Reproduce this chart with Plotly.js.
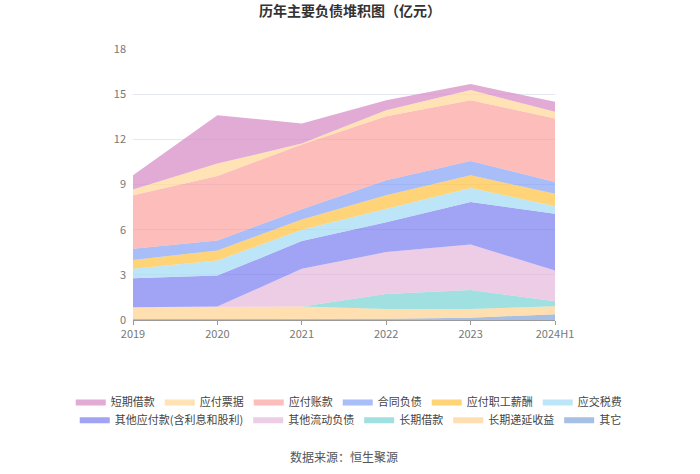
<!DOCTYPE html>
<html>
<head>
<meta charset="utf-8">
<script src="https://cdn.plot.ly/plotly-3.0.1.min.js"></script>
<style>
  html, body { margin: 0; padding: 0; background: #fff; }
  #chart { width: 700px; height: 474px; }
</style>
</head>
<body>
<div id="chart"></div>
<script>
// années
const years = ['2019', '2020', '2021', '2022', '2023', '2024H1'];

// valeurs (亿元)
const qita = [0.07, 0.08, 0.10, 0.08, 0.15, 0.38];          // 其它
const changqiDiyan = [0.77, 0.81, 0.79, 0.65, 0.58, 0.54];  // 长期递延收益
const changqiJiekuan = [0, 0, 0, 1.00, 1.27, 0.33];         // 长期借款
const qitaLiudong = [0, 0, 2.51, 2.78, 3.02, 2.03];         // 其他流动负债
const qitaYingfu = [1.93, 2.06, 1.84, 1.99, 2.81, 3.78];    // 其他应付款(含利息和股利)
const yingjiaoShui = [0.63, 1.00, 0.75, 0.89, 0.94, 0.49];  // 应交税费
const zhigongXinchou = [0.59, 0.67, 0.69, 0.89, 0.84, 0.84];// 应付职工薪酬
const hetongFuzhai = [0.74, 0.66, 0.67, 1.00, 0.95, 0.78];  // 合同负债
const yingfuZhang = [3.55, 4.29, 4.30, 4.26, 4.04, 4.21];   // 应付账款
const yingfuPiaoju = [0.38, 0.82, 0.07, 0.40, 0.67, 0.45];  // 应付票据
const duanqiJiekuan = [0.95, 3.21, 1.33, 0.66, 0.40, 0.66]; // 短期借款

// du bas vers le haut de la pile
const series = [
    { name: '其它', y: qita, color: 'rgba(136,169,218,0.75)', legend: 'legend2' },
    { name: '长期递延收益', y: changqiDiyan, color: 'rgba(255,212,148,0.75)', legend: 'legend2' },
    { name: '长期借款', y: changqiJiekuan, color: 'rgba(111,208,208,0.65)', legend: 'legend2' },
    { name: '其他流动负债', y: qitaLiudong, color: 'rgba(227,178,216,0.65)', legend: 'legend2' },
    { name: '其他应付款(含利息和股利)', y: qitaYingfu, color: 'rgba(110,114,240,0.65)', legend: 'legend2' },
    { name: '应交税费', y: yingjiaoShui, color: 'rgba(167,220,245,0.75)', legend: 'legend' },
    { name: '应付职工薪酬', y: zhigongXinchou, color: 'rgba(255,194,62,0.7)', legend: 'legend' },
    { name: '合同负债', y: hetongFuzhai, color: 'rgba(123,154,245,0.65)', legend: 'legend' },
    { name: '应付账款', y: yingfuZhang, color: 'rgba(250,154,151,0.65)', legend: 'legend' },
    { name: '应付票据', y: yingfuPiaoju, color: 'rgba(255,217,155,0.75)', legend: 'legend' },
    { name: '短期借款', y: duanqiJiekuan, color: 'rgba(214,135,196,0.7)', legend: 'legend' }
];

const traces = series.map(s => ({
    x: years,
    y: s.y,
    name: s.name,
    type: 'scatter',
    mode: 'lines',
    stackgroup: 'one',
    line: { width: 0 },
    fillcolor: s.color,
    legend: s.legend
}));

const legendStyle = {
    orientation: 'h',
    xref: 'paper',
    yref: 'paper',
    x: 1.17,
    xanchor: 'right',
    yanchor: 'top',
    bgcolor: 'rgba(0,0,0,0)',
    traceorder: 'reversed',
    font: { size: 11, color: '#444', family: '"Noto Sans CJK SC", sans-serif' },
    itemwidth: 30
};

const layout = {
    width: 700,
    height: 474,
    margin: { l: 133, r: 145, t: 49, b: 154, autoexpand: false },
    paper_bgcolor: '#fff',
    plot_bgcolor: '#fff',
    font: { family: '"Noto Sans CJK SC", sans-serif', color: '#666', size: 11 },
    title: {
        text: '<b>历年主要负债堆积图（亿元）</b>',
        x: 0.5, xanchor: 'center',
        y: 0.988, yanchor: 'top',
        font: { size: 14, color: '#333' }
    },
    showlegend: true,
    xaxis: {
        type: 'category',
        range: [0, 5],
        showgrid: false,
        showline: true,
        linecolor: '#999',
        ticks: 'outside',
        ticklen: 4,
        tickcolor: '#999',
        tickangle: 0,
        tickfont: { size: 11, color: '#777' },
        fixedrange: true
    },
    yaxis: {
        range: [0, 18],
        dtick: 3,
        showgrid: true,
        gridcolor: '#e6e8f0',
        zeroline: false,
        showline: false,
        tickfont: { size: 11, color: '#777' },
        ticklabelstandoff: 6
    },
    legend: { ...legendStyle, y: -0.247 },
    legend2: { ...legendStyle, y: -0.313 },
    annotations: [{
        text: '数据来源：恒生聚源',
        xref: 'paper', yref: 'paper',
        x: 0.5, y: -0.505,
        xanchor: 'center', yanchor: 'middle',
        showarrow: false,
        font: { size: 12, color: '#555' }
    }]
};

Plotly.newPlot('chart', traces, layout, { displayModeBar: false });
</script>
</body>
</html>
